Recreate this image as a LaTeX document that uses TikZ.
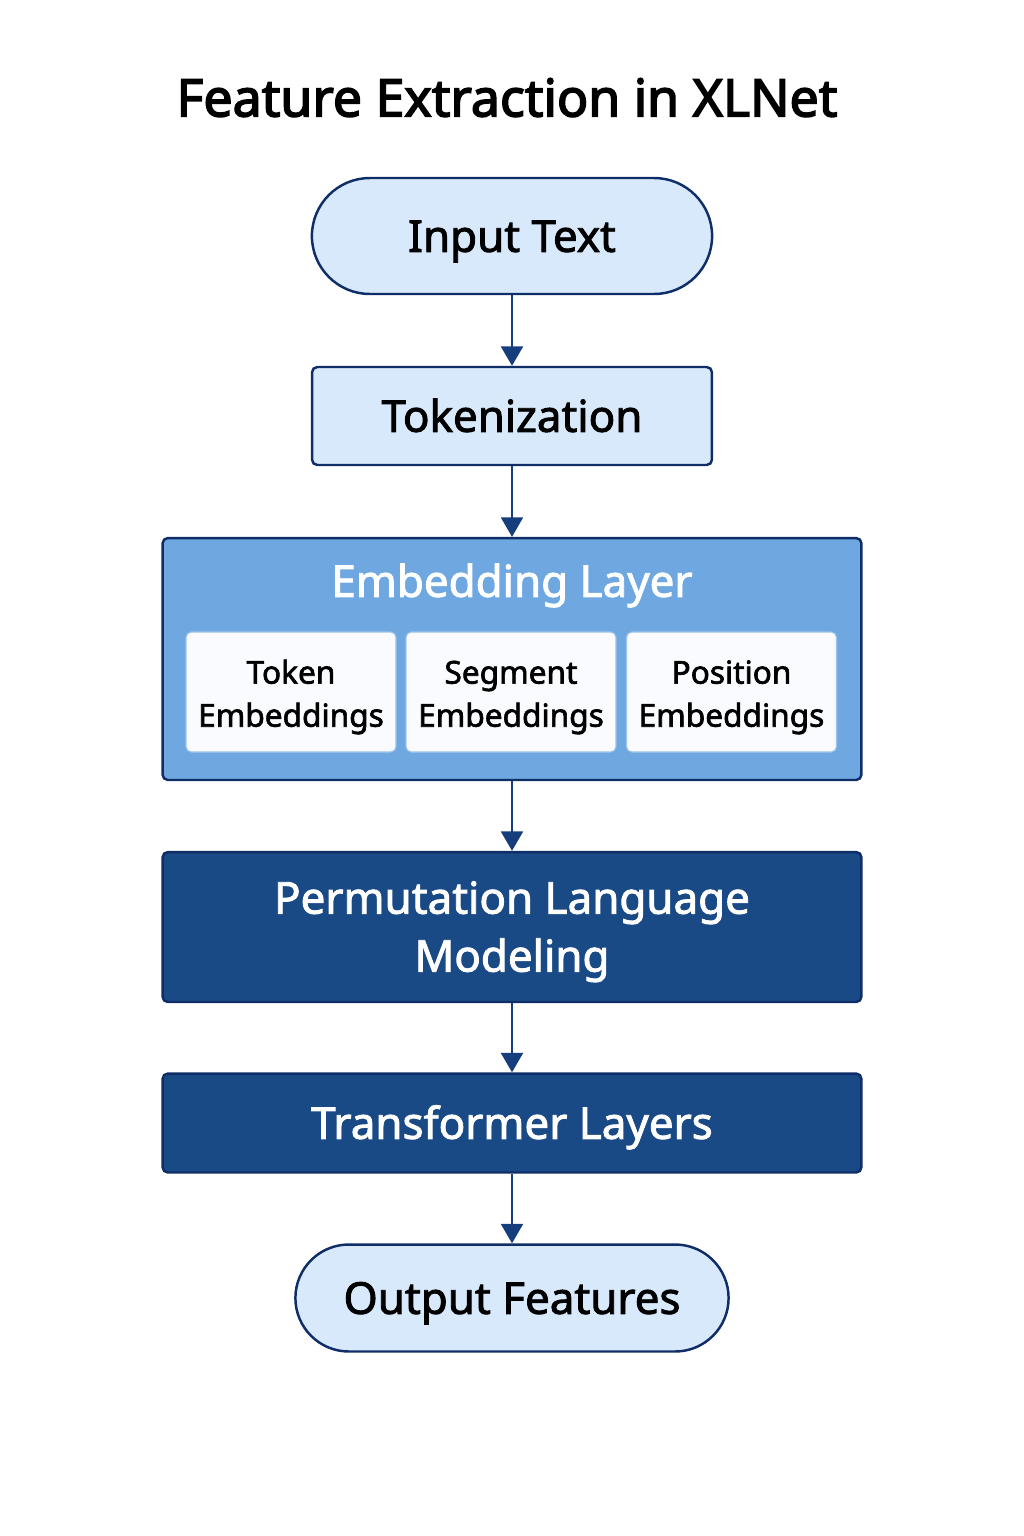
\documentclass[tikz,border=0pt]{standalone}
\usepackage{fontspec}
\setmainfont{Noto Sans}[FakeBold=2]
\newfontfamily\titlefont{Noto Sans}[FakeBold=3]
\usetikzlibrary{arrows.meta,shapes.misc}
\definecolor{navy}{HTML}{0F2D66}
\definecolor{lightfill}{HTML}{D8E9FB}
\definecolor{midfill}{HTML}{6FA8E0}
\definecolor{darkfill}{HTML}{1A4A85}
\definecolor{innerfill}{HTML}{F9FBFE}
\definecolor{innerline}{HTML}{9CC3EC}
\definecolor{arrowcol}{HTML}{173E7C}
% dos lineas, bajadas un poco
\newcommand{\twolines}[3]{\raisebox{#1}[\height][\depth]{\begin{tabular}{@{}c@{}}#2\\#3\end{tabular}}}

\begin{document}
\begin{tikzpicture}[x=0.02cm,y=-0.02cm,
		centred/.style={text height=24pt,text depth=6pt},
		pill/.style={rounded rectangle,draw=navy,line width=1.4pt,fill=lightfill,centred,font=\fontsize{25}{30}\selectfont},
		lightbox/.style={rectangle,rounded corners=3pt,draw=navy,line width=1.4pt,fill=lightfill,centred,font=\fontsize{25}{30}\selectfont},
		darkbox/.style={rectangle,rounded corners=3pt,draw=navy,line width=1.4pt,fill=darkfill,text=white,font=\fontsize{25}{33}\selectfont},
		innerbox/.style={rectangle,rounded corners=3pt,draw=innerline,line width=0.6pt,fill=innerfill,minimum width=4.2cm,minimum height=2.4cm,font=\fontsize{18}{24.5}\selectfont},
		flow/.style={arrowcol,line width=1.1pt,-{Triangle[width=12.5pt,length=11pt]}}]
	\useasboundingbox (0,0) rectangle (1024,1536);
	% titulo
	\node[text height=27pt,text depth=6pt] (title) at (507,98) {\titlefont\fontsize{29.5}{34}\selectfont Feature Extraction in XLNet};
	% bloques principales
	\node[pill,minimum width=8.24cm,minimum height=2.32cm] (inp) at (512,236) {Input Text};
	\node[lightbox,minimum width=8cm,minimum height=1.96cm] (tok) at (512,416) {Tokenization};
	\node[rectangle,rounded corners=3pt,draw=navy,line width=1.4pt,fill=midfill,minimum width=13.98cm,minimum height=4.84cm] (emb) at (512,659) {};
	\node[text=white,centred,font=\fontsize{25}{30}\selectfont] (embtitle) at (512,581) {Embedding Layer};
	%sub-bloques del embedding
	\node[innerbox] (tokemb) at (291,692) {\twolines{-2.6pt}{Token}{Embeddings}};
	\node[innerbox] (segemb) at (511,692) {\twolines{-2.6pt}{Segment}{Embeddings}};
	\node[innerbox] (posemb) at (731.5,692) {\twolines{-2.6pt}{Position}{Embeddings}};
	\node[darkbox,minimum width=13.98cm,minimum height=3cm] (plm) at (512,927) {\twolines{-2.3pt}{Permutation Language}{Modeling}};
	\node[darkbox,centred,minimum width=13.98cm,minimum height=1.98cm] (trf) at (512,1123) {Transformer Layers};
	\node[pill,minimum width=8.9cm,minimum height=2.14cm] (out) at (512,1298) {Output Features};
	%flechas
	\draw[flow] (inp.south) -- (tok.north);
	\draw[flow] (tok.south) -- (emb.north);
	\draw[flow] (emb.south) -- (plm.north);
	\draw[flow] (plm.south) -- (trf.north);
	\draw[flow] (trf.south) -- (out.north);
\end{tikzpicture}
\end{document}
